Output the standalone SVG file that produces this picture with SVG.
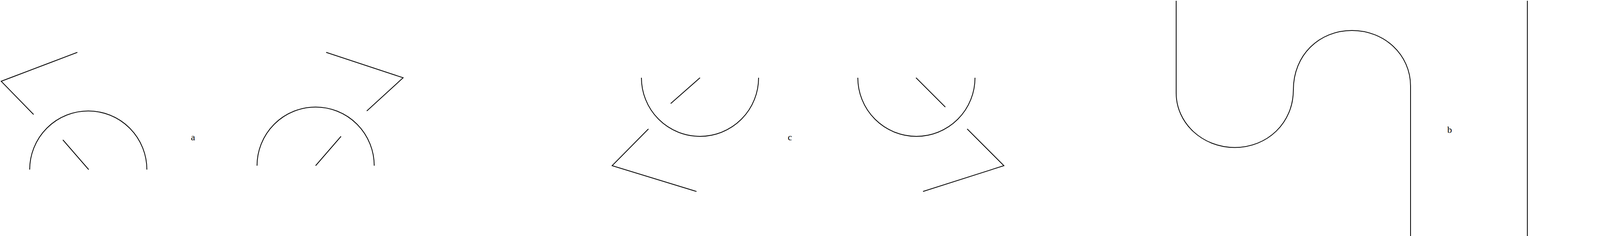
<svg xmlns="http://www.w3.org/2000/svg" width="5412" height="604" viewBox="0 0 5412 604">
<style>
.s{fill:none;stroke:#000;stroke-width:2;stroke-linejoin:miter}
.t{font-family:"Liberation Serif","Times New Roman",serif;font-size:24px;fill:#000;text-anchor:middle}
</style>
<rect width="5412" height="604" fill="#fff"/>
<g id="panel-a">
<polyline class="s" points="198,134 3,208 86,293"/>
<path class="s" d="M76,434 A150,150 0 0 1 376,434"/>
<line class="s" x1="161" y1="358" x2="227" y2="434"/>
<polyline class="s" points="835,134 1032,199 939,284"/>
<path class="s" d="M658,424 A150,150 0 0 1 958,424"/>
<line class="s" x1="873" y1="349" x2="808" y2="424"/>
<text class="t" x="494" y="359">a</text>
</g>
<g id="panel-c">
<path class="s" d="M1642,199 A150,150 0 0 0 1942,199"/>
<line class="s" x1="1792" y1="199" x2="1717" y2="265"/>
<polyline class="s" points="1660,330 1567,424 1783,490"/>
<path class="s" d="M2196,199 A150,150 0 0 0 2496,199"/>
<line class="s" x1="2345" y1="199" x2="2420" y2="274"/>
<polyline class="s" points="2476,330 2570,424 2363,490"/>
<text class="t" x="2022" y="359">c</text>
</g>
<g id="panel-b">
<path class="s" d="M3011,2 V238 C3011,315 3078,377.5 3161,377.5 C3244,377.5 3311,315 3311,230 C3311,140 3378,78 3461,78 C3544,78 3611,140 3611,220 V604"/>
<line class="s" x1="3910" y1="2" x2="3910" y2="604"/>
<text class="t" x="3711" y="340">b</text>
</g>
<g id="panel-d">
<path class="s" d="M4511,604 V220 C4511,140 4578,78 4661,78 C4744,78 4811,140 4811,230 C4811,315 4878,377.5 4961,377.5 C5044,377.5 5111,315 5111,238 V2"/>
<line class="s" x1="5410" y1="2" x2="5410" y2="604"/>
<text class="t" x="5227" y="340">d</text>
</g>
<g id="connectors"></g>
</svg>
